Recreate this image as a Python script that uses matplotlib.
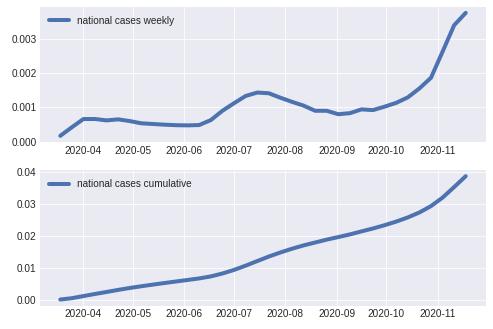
import matplotlib
matplotlib.use("Agg")
import matplotlib.pyplot as plt
import matplotlib.dates as mdates
import pandas as pd

dates = pd.date_range("2020-03-18", periods=36, freq="7D")

weekly = [0.00017, 0.00042, 0.00066, 0.00066, 0.00062, 0.00065, 0.00060, 0.000535,
          0.000515, 0.000495, 0.00048, 0.000475, 0.000485, 0.00063, 0.00090, 0.00112,
          0.00133, 0.00143, 0.00141, 0.00128, 0.00116, 0.00105, 0.00090, 0.00090,
          0.00080, 0.00083, 0.00094, 0.00092, 0.00102, 0.00113, 0.00129, 0.00155,
          0.00186, 0.00262, 0.00339, 0.00375]

cumulative = [0.00017, 0.00059, 0.00125, 0.00191, 0.00253, 0.00318, 0.00378, 0.00432,
              0.00483, 0.00533, 0.00581, 0.00628, 0.00677, 0.00740, 0.00830, 0.00942,
              0.01075, 0.01218, 0.01359, 0.01487, 0.01603, 0.01708, 0.01798, 0.01888,
              0.01968, 0.02051, 0.02145, 0.02237, 0.02339, 0.02452, 0.02581, 0.02736,
              0.02935, 0.03200, 0.03530, 0.03870]

label_weekly = "national cases weekly"
label_cum = "national cases cumulative"

plt.style.use("seaborn-v0_8-darkgrid")
plt.rcParams["font.family"] = ["Liberation Sans", "DejaVu Sans"]
plt.rcParams["font.size"] = 10

W, H = 493, 329
fig = plt.figure(figsize=(W / 72, H / 72), dpi=72)

def rect(l, t, r, b):
    return [l / W, 1 - b / H, (r - l) / W, (b - t) / H]

ax1 = fig.add_axes(rect(40, 6.7, 486, 142))
ax2 = fig.add_axes(rect(40, 170, 486, 305.7))

color = "#4C72B0"
ax1.plot(dates, weekly, color=color, lw=4, label=label_weekly)
ax2.plot(dates, cumulative, color=color, lw=4, label=label_cum)

for ax in (ax1, ax2):
    ax.xaxis.set_major_locator(mdates.MonthLocator())
    ax.xaxis.set_major_formatter(mdates.DateFormatter("%Y-%m"))
    ax.legend(loc="upper left", frameon=False, fontsize=10)
    ax.tick_params(labelsize=10)

fig.savefig("out.png", dpi=72)
